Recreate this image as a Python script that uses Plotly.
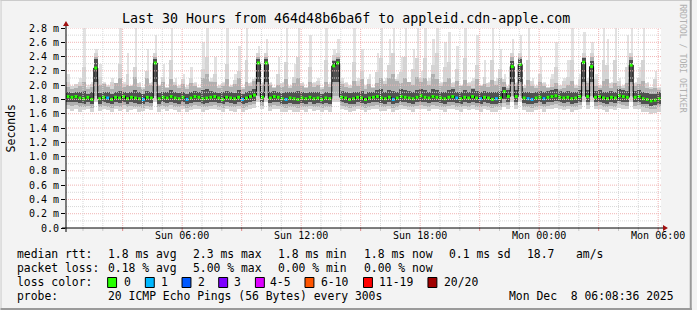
import plotly.graph_objects as go
import pandas as pd

# ---------------- data (hundredths of a millisecond) ----------------
START = "2025-12-07 00:08:36"
END = "2025-12-08 06:08:36"
STEP_MIN = 12

median = [184,183,184,182,181,183,180,224,181,183,
          182,180,183,182,184,181,183,182,181,180,
          183,182,231,181,183,182,184,182,181,183,
          180,182,184,183,181,182,183,184,182,180,
          183,182,181,183,180,182,184,186,231,183,
          231,182,184,183,181,180,182,181,180,182,
          181,183,181,182,180,182,181,227,231,183,
          182,180,181,183,182,180,182,183,184,182,
          181,183,180,182,184,183,182,181,183,185,
          183,182,184,183,182,181,183,184,182,181,
          183,182,184,182,181,183,182,180,181,182,
          191,184,226,184,229,182,181,180,182,183,
          181,183,184,185,183,182,183,181,182,184,
          232,184,226,183,184,182,181,183,182,185,
          184,183,228,183,184,181,180,178,179,181]

loss = [0,0,0,0,0,0,0,0,0,0,
        1,0,0,0,0,0,0,0,0,1,
        0,0,0,0,0,0,0,0,0,0,
        1,0,0,0,0,0,0,0,0,0,
        0,0,0,0,1,0,0,0,0,0,
        0,0,0,0,0,1,0,0,0,0,
        0,0,0,0,0,0,0,0,0,0,
        0,0,0,0,0,0,0,0,0,0,
        0,0,1,0,0,0,0,0,0,0,
        0,0,0,0,0,0,0,0,1,0,
        0,0,0,0,1,0,0,0,1,0,
        0,0,0,0,0,0,1,1,0,0,
        1,0,0,0,0,0,0,0,0,0,
        0,0,0,0,0,0,0,0,0,0,
        0,0,0,0,0,0,0,0,0,0]

smoke_max = [215,198,202,210,285,200,205,250,230,205,
             200,210,198,285,205,245,200,280,205,198,
             250,205,270,200,230,198,285,210,200,215,
             200,225,205,198,260,290,210,240,200,205,
             285,200,215,255,198,285,205,210,255,205,
             265,205,198,240,205,285,200,230,285,205,
             198,270,205,210,198,285,205,250,265,210,
             205,200,285,210,250,200,215,198,245,285,
             210,265,290,215,240,285,205,250,285,220,
             285,210,265,290,205,260,275,205,255,200,
             285,205,210,270,200,235,205,285,210,250,
             215,200,265,205,270,200,285,210,200,240,
             205,198,215,260,200,210,235,285,200,215,
             275,210,260,215,200,285,265,205,285,210,
             200,270,280,205,225,285,205,198,220,198]

smoke_hi3 = [205,199,201,205,225,198,202,245,212,203,
             199,204,198,230,202,215,199,225,203,197,
             220,203,245,199,212,197,235,205,199,208,
             198,210,203,197,222,240,206,215,199,203,
             230,199,207,220,197,235,203,208,245,203,
             245,203,197,215,203,232,199,212,240,203,
             197,225,203,206,197,235,202,242,245,206,
             203,199,232,206,220,199,208,197,218,238,
             206,228,245,208,218,240,203,222,238,210,
             238,206,228,245,203,225,232,203,222,199,
             238,203,206,228,199,212,203,235,206,222,
             208,199,245,203,245,199,235,206,199,215,
             203,197,208,225,199,206,212,235,199,208,
             245,206,245,208,199,235,228,203,235,206,
             199,225,245,203,210,235,203,197,208,196]

smoke_hi2 = [198,194,196,199,205,195,197,240,200,201,
             197,195,203,210,197,200,199,212,198,194,
             210,200,240,199,204,196,208,200,196,202,
             195,203,199,196,210,215,205,204,196,199,
             208,197,201,210,195,205,199,206,240,200,
             240,200,196,200,198,208,196,203,210,199,
             196,205,198,200,194,205,197,235,240,202,
             198,196,206,199,208,195,201,196,203,210,
             201,210,215,206,203,210,205,200,212,205,
             210,200,215,208,199,205,210,198,206,199,
             207,199,196,208,199,201,197,207,200,210,
             205,196,240,199,240,196,207,199,196,205,
             199,196,198,203,194,196,200,206,196,199,
             240,203,240,199,196,206,208,196,203,199,
             196,203,240,199,201,206,196,194,196,193]

smoke_hi1 = [190,189,191,190,192,188,190,236,189,191,
             190,188,191,192,190,189,191,193,190,188,
             192,190,236,189,191,190,193,190,189,191,
             188,191,192,190,193,194,192,191,189,190,
             192,190,189,193,188,191,192,195,236,191,
             236,190,192,191,189,190,190,191,192,190,
             189,191,190,191,188,190,189,234,236,192,
             190,189,191,190,192,188,190,191,193,194,
             191,193,192,191,194,193,192,190,193,195,
             193,191,194,193,190,191,193,194,191,190,
             193,191,194,192,190,192,191,190,190,192,
             198,193,234,193,236,191,190,189,191,192,
             190,192,193,194,192,191,192,190,191,193,
             238,193,234,192,193,191,190,192,191,194,
             193,192,235,192,193,190,189,187,188,190]

smoke_lo1 = [177,176,177,175,174,176,173,205,174,176,
             175,173,176,175,177,174,176,175,174,173,
             176,175,205,174,176,175,177,175,174,176,
             173,175,177,176,174,175,176,177,175,173,
             176,175,174,176,173,175,177,178,205,176,
             205,175,177,176,174,173,175,174,173,175,
             174,176,174,175,173,175,174,205,205,176,
             175,173,174,176,175,173,175,176,177,175,
             174,176,173,175,177,176,175,174,176,177,
             176,175,177,176,175,174,176,177,175,174,
             176,175,177,175,174,176,175,173,174,175,
             180,177,205,177,205,175,174,173,175,176,
             174,176,177,178,176,175,176,174,175,177,
             205,177,205,176,177,175,174,176,175,178,
             177,176,205,176,177,174,173,171,172,174]

smoke_lo2 = [172,171,172,170,169,171,168,185,169,171,
             170,168,171,170,172,169,171,170,169,168,
             171,170,185,169,171,170,172,170,169,171,
             168,170,172,171,169,170,171,172,170,168,
             171,170,169,171,168,170,172,173,185,171,
             185,170,172,171,169,168,170,169,168,170,
             169,171,169,170,168,170,169,185,185,171,
             170,168,169,171,170,168,170,171,172,170,
             169,171,168,170,172,171,170,169,171,172,
             171,170,172,171,170,169,171,172,170,169,
             171,170,172,170,169,171,170,168,169,170,
             175,172,185,172,185,170,169,168,170,171,
             169,171,172,173,171,170,171,169,170,172,
             185,172,185,171,172,170,169,171,170,173,
             172,171,185,171,172,169,168,166,167,169]

smoke_min = [166,164,167,163,165,166,162,176,164,167,
             165,162,166,164,167,163,165,166,162,164,
             166,165,176,163,166,164,167,165,163,166,
             162,165,167,166,163,165,166,167,165,162,
             166,164,163,166,162,165,167,168,176,166,
             176,164,167,166,163,162,165,163,162,165,
             163,166,164,165,162,165,163,176,176,166,
             165,162,164,166,165,162,165,166,167,164,
             164,166,162,165,167,166,165,163,166,167,
             166,164,167,166,165,163,166,167,165,163,
             166,165,167,165,163,166,165,162,163,165,
             170,167,176,167,176,165,163,162,165,166,
             163,166,167,168,166,165,166,163,165,167,
             176,167,176,166,167,165,163,166,165,168,
             167,166,176,166,167,163,162,160,161,163]

y_ticks = [0.0,0.2,0.4,0.6,0.8,1.0,1.2,1.4,1.6,1.8,2.0,2.2,2.4,2.6,2.8]
y_labels = ["0.0","0.2 m","0.4 m","0.6 m","0.8 m","1.0 m","1.2 m","1.4 m",
            "1.6 m","1.8 m","2.0 m","2.2 m","2.4 m","2.6 m","2.8 m"]
x_ticks = ["2025-12-07 03:00","2025-12-07 06:00","2025-12-07 09:00","2025-12-07 12:00",
           "2025-12-07 15:00","2025-12-07 18:00","2025-12-07 21:00","2025-12-08 00:00",
           "2025-12-08 03:00","2025-12-08 06:00"]
x_labels = ["","Sun 06:00","","Sun 12:00","","Sun 18:00","","Mon 00:00","","Mon 06:00"]

loss_names = ["0","1","2","3","4-5","6-10","11-19","20/20"]
loss_colors = ["#26ff00","#00b8ff","#0059ff","#7e00ff","#dd00ff","#ff5500","#ff0000","#a00000"]

stats_rtt = ["1.8 ms avg","2.3 ms max","1.8 ms min","1.8 ms now","0.1 ms sd","18.7","am/s"]
stats_loss = ["0.18 % avg","5.00 % max","0.00 % min","0.00 % now"]

# ---------------- geometry ----------------
W, H = 697, 310
L, R, T, B = 66, 31, 28, 82
PW, PH = W - L - R, H - T - B
MONO = "DejaVu Sans Mono"
MAJOR_GRID = "#f0b4b4"
MINOR_GRID = "#d8d8d8"


def px(x):
    return (x - L) / PW


def py(y):
    return (T + PH - y) / PH


n = len(median)
starts = pd.date_range(START, periods=n, freq=f"{STEP_MIN}min")
centers = starts + pd.Timedelta(minutes=STEP_MIN / 2)
width_ms = STEP_MIN * 60 * 1000
ms = lambda a: [v / 100 for v in a]

fig = go.Figure()


def band(lo, hi, color, frac=1.0, shift=0.0):
    lo_v, hi_v = ms(lo), ms(hi)
    fig.add_trace(go.Bar(x=starts, base=lo_v, y=[h - l for l, h in zip(lo_v, hi_v)],
                         width=width_ms * frac, offset=width_ms * shift,
                         marker=dict(color=color, line=dict(width=0)),
                         showlegend=False, hoverinfo="skip"))


band(smoke_min, smoke_max, "#e2e2e2", frac=0.5, shift=0.5)
band(smoke_min, smoke_hi3, "#d4d4d4")
band(smoke_lo2, smoke_hi2, "#b0b0b0")
band(smoke_lo1, smoke_hi1, "#505050")

med = ms(median)
fig.add_trace(go.Scatter(x=list(starts) + [pd.Timestamp(END)], y=med + [med[-1]],
                         mode="lines", line=dict(color="#000000", width=1, shape="hv"),
                         showlegend=False, hoverinfo="skip"))
fig.add_trace(go.Scatter(x=centers, y=med, mode="markers",
                         marker=dict(symbol="square", size=3,
                                     color=[loss_colors[min(c, 7)] for c in loss],
                                     line=dict(width=0)),
                         showlegend=False, hoverinfo="skip"))

shapes = []
# grid (drawn above, rrdtool style)
for i in range(1, 29):
    v = i / 10
    major = (i % 2 == 0)
    shapes.append(dict(type="line", xref="paper", yref="y", x0=0, x1=1, y0=v, y1=v, layer="above",
                       line=dict(color=MAJOR_GRID if major else MINOR_GRID, width=1, dash="1px,1px")))
hours = pd.date_range("2025-12-07 01:00", "2025-12-08 06:00", freq="1h")
for h in hours:
    major = (h.hour % 3 == 0)
    shapes.append(dict(type="line", xref="x", yref="paper", x0=h, x1=h, y0=0, y1=1, layer="above",
                       line=dict(color=MAJOR_GRID if major else MINOR_GRID, width=1, dash="1px,1px")))
    shapes.append(dict(type="line", xref="x", yref="paper", x0=h, x1=h, y0=py(228), y1=py(231),
                       layer="above", line=dict(color="#e08888" if major else "#c8c8c8", width=1)))

# axes lines + arrows
shapes.append(dict(type="line", xref="paper", yref="paper", x0=px(62), x1=px(669), y0=0, y1=0,
                   line=dict(color="#000000", width=1), layer="above"))
shapes.append(dict(type="line", xref="paper", yref="paper", x0=0, x1=0, y0=py(232), y1=py(25),
                   line=dict(color="#000000", width=1), layer="above"))
shapes.append(dict(type="path", xref="paper", yref="paper",
                   path=f"M {px(63)},{py(26)} L {px(69)},{py(26)} L {px(66)},{py(21)} Z",
                   fillcolor="#a01010", line=dict(width=0), layer="above"))
shapes.append(dict(type="path", xref="paper", yref="paper",
                   path=f"M {px(668)},{py(225)} L {px(668)},{py(231)} L {px(673)},{py(228)} Z",
                   fillcolor="#a01010", line=dict(width=0), layer="above"))

# frame shading
shapes.append(dict(type="line", xref="paper", yref="paper", x0=px(0), x1=px(697), y0=py(0.5), y1=py(0.5),
                   line=dict(color="#cbcbcb", width=1)))
shapes.append(dict(type="line", xref="paper", yref="paper", x0=px(0.5), x1=px(0.5), y0=py(0), y1=py(310),
                   line=dict(color="#cbcbcb", width=1)))
shapes.append(dict(type="line", xref="paper", yref="paper", x0=px(0), x1=px(697), y0=py(309), y1=py(309),
                   line=dict(color="#9a9a9a", width=2)))
shapes.append(dict(type="line", xref="paper", yref="paper", x0=px(696), x1=px(696), y0=py(0), y1=py(310),
                   line=dict(color="#9a9a9a", width=2)))

# legend colour boxes
box_x = [108, 146, 183, 220, 257, 307, 366, 431]
lab_x = [123, 161, 198, 234, 271, 322, 381, 446]
for bx, col in zip(box_x, loss_colors):
    shapes.append(dict(type="rect", xref="paper", yref="paper", x0=px(bx), x1=px(bx + 9),
                       y0=py(287.5), y1=py(277.5), fillcolor=col, line=dict(color="#000000", width=1)))

ann = []


def text(x, y, s, size=11.4, anchor="left", color="#000000", angle=0):
    ann.append(dict(x=px(x), y=py(y), xref="paper", yref="paper", text=s, showarrow=False,
                    xanchor=anchor, yanchor="middle", textangle=angle,
                    font=dict(family=MONO, size=size, color=color), borderpad=0))


text(348, 18.5, "Last 30 Hours from 464d48b6ba6f to appleid.cdn-apple.com", size=13.3, anchor="center")
text(11, 128, "Seconds", size=11.5, anchor="center", angle=-90)
text(688, 59, "RRDTOOL / TOBI OETIKER", size=8.2, anchor="center", color="#b0b0b0", angle=90)

col_x = [107, 193, 279, 365, 451, 530, 579]
text(16, 254.3, "median rtt:")
for x, s in zip(col_x, stats_rtt):
    text(x, 254.3, s)
text(16, 268.3, "packet loss:")
for x, s in zip(col_x, stats_loss):
    text(x, 268.3, s)
text(16, 282.3, "loss color:")
for x, s in zip(lab_x, loss_names):
    text(x, 282.3, s)
text(16, 296.2, "probe:")
text(107, 296.2, "20 ICMP Echo Pings (56 Bytes) every 300s")
text(680, 296.2, "Mon Dec\u00a0\u00a08 06:08:36 2025", anchor="right")

fig.update_layout(
    width=W, height=H, margin=dict(l=L, r=R, t=T, b=B, pad=0),
    paper_bgcolor="#f3f3f3", plot_bgcolor="#ffffff",
    barmode="overlay", bargap=0, showlegend=False,
    shapes=shapes, annotations=ann,
    xaxis=dict(type="date", range=[START, END], tickmode="array", tickvals=x_ticks, ticktext=x_labels,
               showgrid=False, zeroline=False, showline=False, ticks="", ticklen=0,
               tickfont=dict(family=MONO, size=10, color="#000000"),
               fixedrange=True),
    yaxis=dict(range=[0, 2.8], tickmode="array", tickvals=y_ticks, ticktext=y_labels,
               showgrid=False, zeroline=False, showline=False, ticks="outside", ticklen=4,
               tickcolor="#000000", tickfont=dict(family=MONO, size=10, color="#000000"),
               fixedrange=True),
)

fig.write_html("out.html", config={"displayModeBar": False})
